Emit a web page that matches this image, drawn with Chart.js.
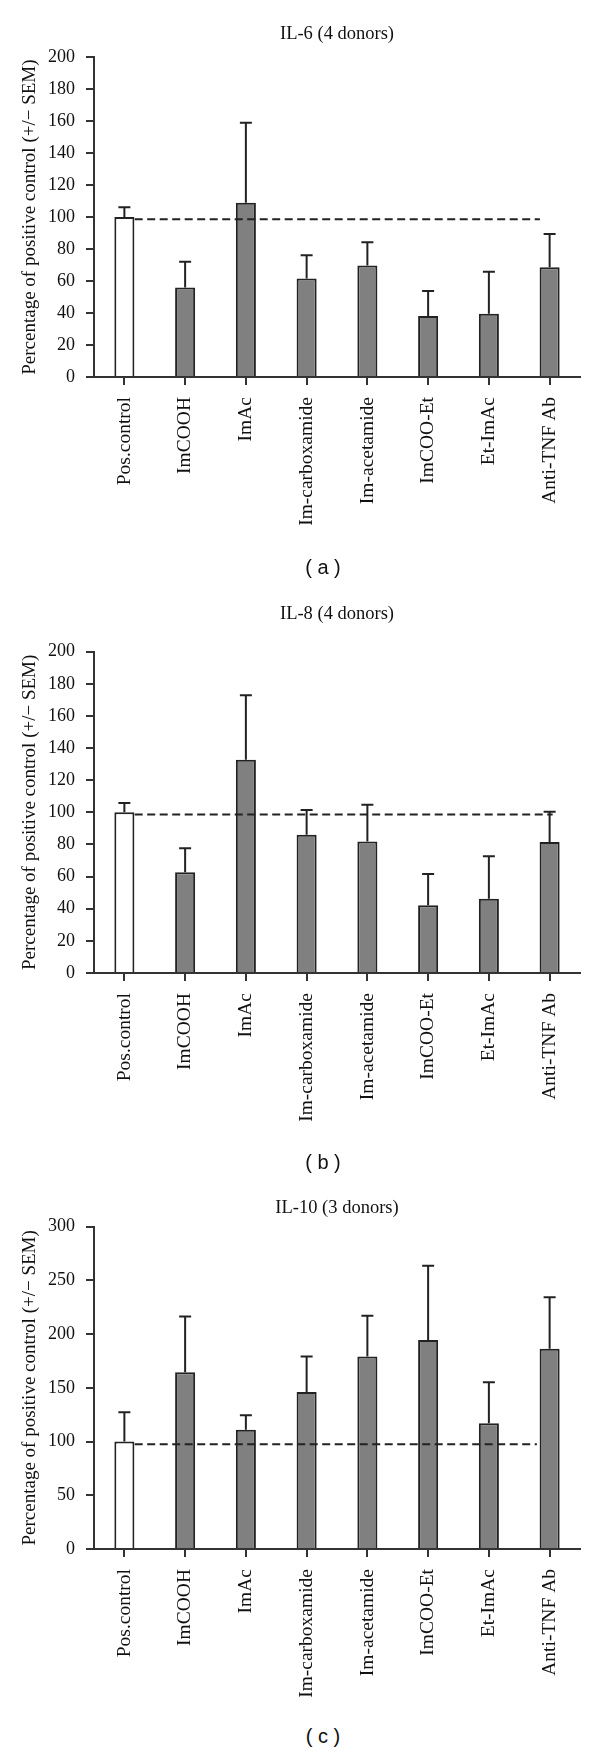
<!DOCTYPE html>
<html>
<head>
<meta charset="utf-8">
<script src="https://cdn.jsdelivr.net/npm/chart.js@4.4.1/dist/chart.umd.min.js"></script>
<style>
  html, body { margin: 0; padding: 0; background: #fff; }
  body { width: 600px; height: 1752px; position: relative; overflow: hidden; }
  canvas { position: absolute; left: 0; }
  .cap { position: absolute; width: 80px; left: 283px; text-align: center;
         font-family: "Liberation Sans", Arial, sans-serif; font-size: 20px; color: #111; line-height: 24px; }
</style>
</head>
<body>
<canvas id="c6" width="600" height="547" style="top:0px"></canvas>
<canvas id="c8" width="600" height="583" style="top:560px"></canvas>
<canvas id="c10" width="600" height="569" style="top:1150px"></canvas>
<div class="cap" style="top:555px">( a )</div>
<div class="cap" style="top:1150px">( b )</div>
<div class="cap" style="top:1724px">( c )</div>
<script>
// categories shared by all three panels
const labels = ['Pos.control', 'ImCOOH', 'ImAc', 'Im-carboxamide', 'Im-acetamide', 'ImCOO-Et', 'Et-ImAc', 'Anti-TNF Ab'];

// IL-6
const il6Mean = [100, 55.9, 108.9, 61.6, 69.7, 38.1, 39.6, 68.7];
const il6Sem = [6.2, 16.1, 50.1, 14.5, 14.6, 15.7, 26.2, 20.8];
// IL-8
const il8Mean = [100, 62.7, 132.7, 86.1, 81.8, 42.2, 46.2, 81.6];
const il8Sem = [5.8, 14.9, 40.2, 15.3, 23.0, 19.5, 26.5, 18.8];
// IL-10
const il10Mean = [100, 164.5, 110.9, 146.2, 179.1, 194.6, 117.1, 186.5];
const il10Sem = [27.3, 51.8, 13.6, 32.9, 38.1, 69.1, 38.1, 47.8];

// dashed reference line: [level, from category, to category]
const il6Ref = [98.6, 0.17, 6.84];
const il8Ref = [98.6, 0.17, 7.05];
const il10Ref = [97.5, 0.17, 6.79];

const yMax6 = 200, yStep6 = 20;
const yMax8 = 200, yStep8 = 20;
const yMax10 = 300, yStep10 = 50;

const barFill = ['#ffffff', '#808080', '#808080', '#808080', '#808080', '#808080', '#808080', '#808080'];
const ink = '#222';
const serif = '"Liberation Serif", "Times New Roman", serif';

// SEM whiskers (upper only) and the dashed control level
const extras = {
  id: 'extras',
  afterDatasetsDraw(chart, args, opts) {
    const meta = chart.getDatasetMeta(0);
    const x = chart.scales.x, y = chart.scales.y;
    const ctx = chart.ctx;
    ctx.save();
    ctx.strokeStyle = ink;
    ctx.lineWidth = 2;
    meta.data.forEach((bar, i) => {
      const top = y.getPixelForValue(opts.mean[i] + opts.sem[i]);
      ctx.beginPath();
      ctx.moveTo(bar.x, bar.y);
      ctx.lineTo(bar.x, top);
      ctx.moveTo(bar.x - 6, top);
      ctx.lineTo(bar.x + 6, top);
      ctx.stroke();
    });
    const ly = y.getPixelForValue(opts.ref[0]);
    ctx.setLineDash([8, 4.5]);
    ctx.beginPath();
    ctx.moveTo(x.getPixelForValue(opts.ref[1]), ly);
    ctx.lineTo(x.getPixelForValue(opts.ref[2]), ly);
    ctx.stroke();
    ctx.restore();
  }
};

function makeChart(id, title, mean, sem, ref, yMax, yStep, padTop, padBottom) {
  new Chart(document.getElementById(id), {
    type: 'bar',
    data: {
      labels: labels,
      datasets: [{
        data: mean,
        backgroundColor: barFill,
        borderColor: ink,
        borderWidth: 2,
        borderSkipped: 'start',
        barPercentage: 0.33,
        categoryPercentage: 1
      }]
    },
    options: {
      responsive: false,
      animation: false,
      devicePixelRatio: 1,
      layout: {padding: {left: 0, right: 20, top: 0, bottom: 0}},
      plugins: {
        legend: {display: false},
        tooltip: {enabled: false},
        title: {
          display: true,
          text: title,
          fullSize: false,
          color: '#111',
          font: {family: serif, size: 18.5, weight: 'normal'},
          padding: {top: padTop, bottom: padBottom}
        },
        extras: {mean: mean, sem: sem, ref: ref}
      },
      scales: {
        x: {
          offset: true,
          grid: {display: true, drawOnChartArea: false, drawTicks: true, tickLength: 8, color: '#333', lineWidth: 2, offset: false},
          border: {display: true, color: '#333', width: 2},
          ticks: {
            minRotation: 90, maxRotation: 90, padding: 12, autoSkip: false,
            color: '#111', font: {family: serif, size: 19.5}
          },
          afterFit: (s) => { s.height = 170; }
        },
        y: {
          min: 0, max: yMax,
          grid: {display: true, drawOnChartArea: false, drawTicks: true, tickLength: 8, color: '#333', lineWidth: 2},
          border: {display: true, color: '#333', width: 2},
          ticks: {stepSize: yStep, padding: 11, color: '#111', font: {family: serif, size: 18}},
          title: {
            display: true,
            text: 'Percentage of positive control (+/\u2212 SEM)',
            color: '#111',
            font: {family: serif, size: 19},
            padding: {top: 19, bottom: 0}
          },
          afterFit: (s) => { s.width = 94; }
        }
      }
    },
    plugins: [extras]
  });
}

makeChart('c6', 'IL-6 (4 donors)', il6Mean, il6Sem, il6Ref, yMax6, yStep6, 23, 12);
makeChart('c8', 'IL-8 (4 donors)', il8Mean, il8Sem, il8Ref, yMax8, yStep8, 43.5, 26);
makeChart('c10', 'IL-10 (3 donors)', il10Mean, il10Sem, il10Ref, yMax10, yStep10, 47.5, 7);
</script>
</body>
</html>
